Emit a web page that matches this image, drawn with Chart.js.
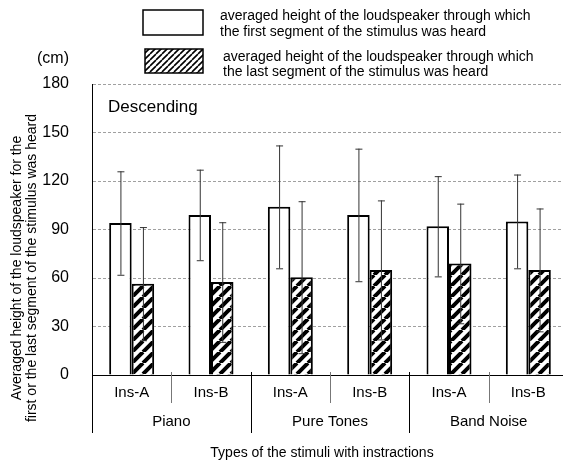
<!DOCTYPE html>
<html>
<head>
<meta charset="utf-8">
<script src="https://cdn.jsdelivr.net/npm/chart.js@4/dist/chart.umd.min.js"></script>
<style>
  html, body { margin: 0; padding: 0; overflow: hidden; background: #fff; }
</style>
</head>
<body>
<canvas id="chart" width="568" height="464"></canvas>
<script>
// data
const groups = ['Piano', 'Pure Tones', 'Band Noise'];
const categories = ['Ins-A', 'Ins-B', 'Ins-A', 'Ins-B', 'Ins-A', 'Ins-B'];
const firstHeight = [94, 99, 104, 99, 92, 95];
const firstSD = [32, 28, 38, 41, 31, 29];
const lastHeight = [56.5, 57.5, 60.5, 65, 69, 65];
const lastSD = [35, 37, 47, 43, 37, 38];
const yTicks = [0, 30, 60, 90, 120, 150, 180];

const legendFirst = ['averaged height of the loudspeaker through which', 'the first segment of the stimulus was heard'];
const legendLast = ['averaged height of the loudspeaker through which', 'the last segment of the stimulus was heard'];
const yTitle = ['Averaged height of the loudspeaker for the', 'first or the last segment of the stimulus was heard'];
const xTitle = 'Types of the stimuli with instractions';

const FONT = '"Liberation Sans", Arial, sans-serif';

function hatch(size, lw) {
    const c = document.createElement('canvas');
    c.width = c.height = size;
    const g = c.getContext('2d');
    g.fillStyle = '#fff';
    g.fillRect(0, 0, size, size);
    g.strokeStyle = '#000';
    g.lineWidth = lw;
    g.beginPath();
    for (let k = -1; k <= 1; k++) {
        g.moveTo(k * size, size);
        g.lineTo(k * size + size, 0);
    }
    g.stroke();
    return g.createPattern(c, 'repeat');
}

const barHatch = hatch(11, 4);
const legendHatch = hatch(6, 1.6);

// error bars drawn from the scales
const errorBars = {
    id: 'errorBars',
    afterDatasetsDraw(chart) {
        const { ctx } = chart;
        const y = chart.scales.y;
        const sds = [firstSD, lastSD];
        chart.data.datasets.forEach((ds, i) => {
            chart.getDatasetMeta(i).data.forEach((bar, j) => {
                const top = y.getPixelForValue(ds.data[j] + sds[i][j]);
                const bot = y.getPixelForValue(ds.data[j] - sds[i][j]);
                ctx.save();
                ctx.strokeStyle = '#333';
                ctx.lineWidth = 1;
                ctx.beginPath();
                ctx.moveTo(bar.x + 0.5, top);
                ctx.lineTo(bar.x + 0.5, bot);
                ctx.moveTo(bar.x - 3, top + 0.5);
                ctx.lineTo(bar.x + 4, top + 0.5);
                ctx.moveTo(bar.x - 3, bot + 0.5);
                ctx.lineTo(bar.x + 4, bot + 0.5);
                ctx.stroke();
                ctx.restore();
            });
        });
    }
};

// texts, legend and the two-level category axis
const decorations = {
    id: 'decorations',
    afterDraw(chart) {
        const { ctx, chartArea } = chart;
        const x = chart.scales.x;
        const axisY = chartArea.bottom;
        ctx.save();
        ctx.fillStyle = '#000';
        ctx.textBaseline = 'middle';

        // legend
        ctx.strokeStyle = '#000';
        ctx.lineWidth = 1.5;
        ctx.fillStyle = '#fff';
        ctx.fillRect(143, 10, 60, 25);
        ctx.strokeRect(143, 10, 60, 25);
        ctx.fillStyle = legendHatch;
        ctx.fillRect(145, 49, 58, 24);
        ctx.strokeRect(145, 49, 58, 24);
        ctx.fillStyle = '#000';
        ctx.font = '14px ' + FONT;
        ctx.textAlign = 'left';
        ctx.fillText(legendFirst[0], 220, 16);
        ctx.fillText(legendFirst[1], 220, 32);
        ctx.fillText(legendLast[0], 223, 57);
        ctx.fillText(legendLast[1], 223, 72);

        // unit and panel label
        ctx.font = '16px ' + FONT;
        ctx.textAlign = 'center';
        ctx.fillText('(cm)', 53, 59);
        ctx.font = '17px ' + FONT;
        ctx.textAlign = 'left';
        ctx.fillText('Descending', 108, 107);

        // y title
        ctx.font = '14px ' + FONT;
        ctx.textAlign = 'center';
        ctx.save();
        ctx.translate(17, 268);
        ctx.rotate(-Math.PI / 2);
        ctx.fillText(yTitle[0], 0, 0);
        ctx.fillText(yTitle[1], 0, 15);
        ctx.restore();

        // category labels
        ctx.font = '15px ' + FONT;
        categories.forEach((c, i) => {
            ctx.fillText(c, x.getPixelForValue(i), 393);
        });
        groups.forEach((g, k) => {
            const cx = (x.getPixelForValue(2 * k) + x.getPixelForValue(2 * k + 1)) / 2;
            ctx.fillText(g, cx, 422);
        });
        ctx.font = '14px ' + FONT;
        ctx.fillText(xTitle, 322, 453);

        // separators
        ctx.lineWidth = 1;
        ctx.strokeStyle = '#000';
        ctx.beginPath();
        ctx.moveTo(chartArea.left + 0.5, axisY);
        ctx.lineTo(chartArea.left + 0.5, 433);
        ctx.stroke();
        for (let i = 0; i < categories.length - 1; i++) {
            const bx = Math.round((x.getPixelForValue(i) + x.getPixelForValue(i + 1)) / 2) + 0.5;
            ctx.beginPath();
            if (i % 2 === 1) {
                ctx.strokeStyle = '#000';
                ctx.moveTo(bx, axisY - 3);
                ctx.lineTo(bx, 433);
            } else {
                ctx.strokeStyle = '#777';
                ctx.moveTo(bx, axisY - 3);
                ctx.lineTo(bx, 403);
            }
            ctx.stroke();
        }
        ctx.restore();
    }
};

new Chart(document.getElementById('chart'), {
    type: 'bar',
    data: {
        labels: categories,
        datasets: [
            { data: firstHeight, backgroundColor: '#fff', borderColor: '#000', borderWidth: 2 },
            { data: lastHeight, backgroundColor: barHatch, borderColor: '#000', borderWidth: 2 }
        ]
    },
    options: {
        responsive: false,
        animation: false,
        devicePixelRatio: 1,
        categoryPercentage: 0.567,
        barPercentage: 1,
        layout: { padding: { top: 84, left: 0, right: 0, bottom: 0 } },
        plugins: { legend: { display: false }, tooltip: { enabled: false } },
        scales: {
            x: {
                grid: { display: false },
                ticks: { display: false },
                border: { color: '#000', width: 1 },
                afterFit: s => { s.height = 89; }
            },
            y: {
                min: 0,
                max: 180,
                afterBuildTicks: s => { s.ticks = yTicks.map(v => ({ value: v })); },
                ticks: { color: '#000', padding: 23, font: { family: FONT, size: 16 } },
                grid: {
                    drawTicks: false,
                    color: c => c.tick && c.tick.value === 0 ? 'rgba(0,0,0,0)' : '#a0a0a0'
                },
                border: { color: '#000', width: 1, dash: [3, 2] },
                afterFit: s => { s.width = 92; }
            }
        }
    },
    plugins: [errorBars, decorations]
});
</script>
</body>
</html>
